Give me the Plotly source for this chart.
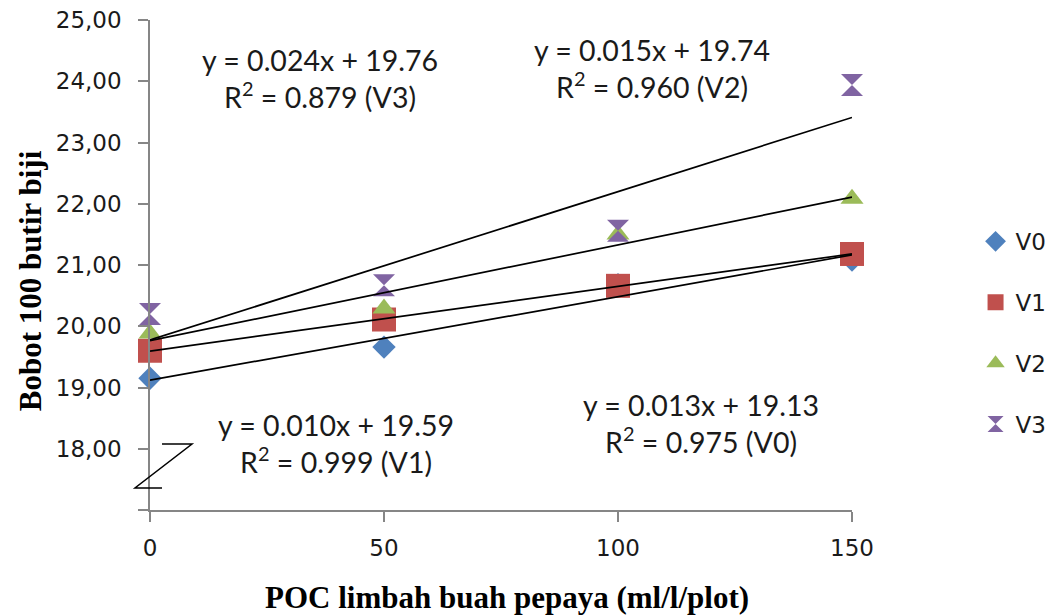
import numpy as np
import plotly.graph_objects as go

# ---- data ----
doses = [0, 50, 100, 150]
series_names = ["V0", "V1", "V2", "V3"]
v0 = [19.15, 19.66, 20.68, 21.08]
v1 = [19.60, 20.11, 20.66, 21.18]
v2 = [19.88, 20.29, 21.50, 22.08]
v3 = [20.20, 20.67, 21.56, 23.94]
y_ticks = [17, 18, 19, 20, 21, 22, 23, 24, 25]
y_tick_text = ["", "18,00", "19,00", "20,00", "21,00", "22,00", "23,00", "24,00", "25,00"]
x_ticks = [0, 50, 100, 150]

eq_lines = {
    "V3": ("y = 0.024x + 19.76", "R<sup>2</sup> = 0.879 (V3)"),
    "V2": ("y = 0.015x + 19.74", "R<sup>2</sup> = 0.960 (V2)"),
    "V1": ("y = 0.010x + 19.59", "R<sup>2</sup> = 0.999 (V1)"),
    "V0": ("y = 0.013x + 19.13", "R<sup>2</sup> = 0.975 (V0)"),
}

colors = ["#4F81BD", "#C0504D", "#9BBB59", "#8064A2"]
symbols = ["diamond", "square", "triangle-up", "hourglass"]
sizes = [18, 24, 20, 22]

fig = go.Figure()
all_series = [v0, v1, v2, v3]
for i, (name, vals) in enumerate(zip(series_names, all_series)):
    fig.add_trace(go.Scatter(
        x=doses, y=vals, mode="markers", name=name,
        legendgroup=name,
        marker=dict(symbol=symbols[i], color=colors[i], size=sizes[i],
                    line=dict(width=0)),
        cliponaxis=False,
    ))

# linear trendlines (least squares fit of each series)
for name, vals in zip(series_names, all_series):
    slope, intercept = np.polyfit(doses, vals, 1)
    xs = np.array([doses[0], doses[-1]])
    fig.add_trace(go.Scatter(
        x=xs, y=slope * xs + intercept, mode="lines",
        line=dict(color="black", width=1.7),
        showlegend=False, hoverinfo="skip", cliponaxis=False,
    ))

eq_font = dict(family="Lato", size=28.5, color="#1a1a1a")
eq_pos = {
    "V3": (0.2422, 0.8797),
    "V2": (0.7150, 0.9000),
    "V1": (0.2650, 0.1356),
    "V0": (0.7850, 0.1774),
}
for key, (l1, l2) in eq_lines.items():
    px, py = eq_pos[key]
    fig.add_annotation(x=px, y=py, xref="paper", yref="paper",
                       text=l1 + "<br>" + l2, showarrow=False,
                       font=eq_font, align="center",
                       xanchor="center", yanchor="middle")

# axis titles
fig.add_annotation(x=-0.171, y=0.469, xref="paper", yref="paper",
                   text="<b>Bobot 100 butir biji</b>", showarrow=False,
                   textangle=-90, font=dict(family="Liberation Serif", size=31, color="black"),
                   xanchor="center", yanchor="middle")
fig.add_annotation(x=0.5085, y=-0.178, xref="paper", yref="paper",
                   text="<b>POC limbah buah pepaya (ml/l/plot)</b>", showarrow=False,
                   font=dict(family="Liberation Serif", size=31, color="black"),
                   xanchor="center", yanchor="middle")

# axis break indicator
fig.add_shape(type="path", xref="paper", yref="paper",
              path="M 0.0171,0.1346 L 0.0598,0.1346 L -0.0214,0.0449 L 0.0171,0.0449",
              line=dict(color="black", width=1.5))

axis_common = dict(showline=True, linecolor="#868686", linewidth=1.5,
                   ticks="outside", tickcolor="#868686", ticklen=10, tickwidth=1.5,
                   showgrid=False, zeroline=False, ticklabeloverflow="allow",
                   automargin=False,
                   tickfont=dict(family="DejaVu Sans", size=23, color="#1a1a1a"))

fig.update_xaxes(range=[0, 150], tickvals=x_ticks, ticklabelstandoff=7, **axis_common)
fig.update_yaxes(range=[17, 25], tickvals=y_ticks, ticktext=y_tick_text,
                 ticklabelstandoff=12, **axis_common)

# the page body has an 8px default margin; margins compensate for that offset
fig.update_layout(
    width=1055, height=607,
    margin=dict(l=142, r=211, t=12, b=105, autoexpand=False),
    paper_bgcolor="white", plot_bgcolor="white",
    showlegend=True,
    legend=dict(x=1.176, y=0.592, xanchor="left", yanchor="top",
                tracegroupgap=28, bgcolor="rgba(0,0,0,0)",
                font=dict(family="DejaVu Sans", size=23, color="#1a1a1a")),
)

fig.write_html("out.html")
